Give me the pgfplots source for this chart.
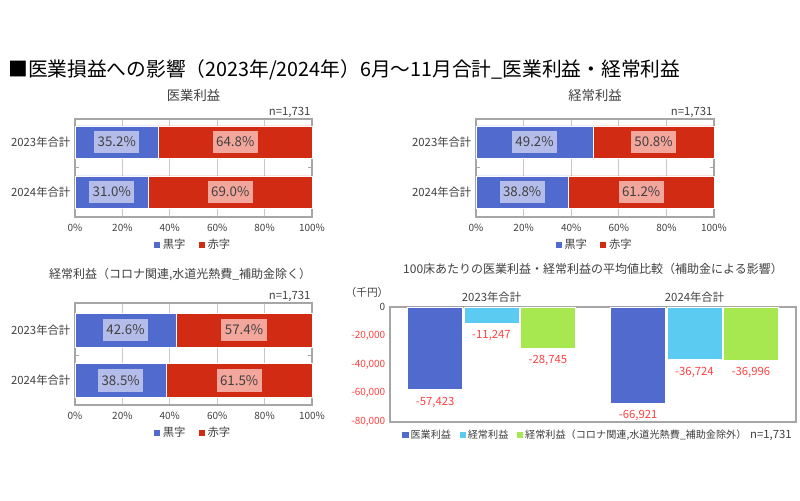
\documentclass[border=0pt]{standalone}
\usepackage{pgfplots}
\pgfplotsset{compat=1.18}
\usepackage{fontspec}
\setmainfont{Noto Sans CJK JP}
\definecolor{barblue}{HTML}{506ACE}
\definecolor{barred}{HTML}{D12B13}
\definecolor{boxblue}{HTML}{B4BDEA}
\definecolor{boxred}{HTML}{F3A69B}
\definecolor{barcyan}{HTML}{5CCBF2}
\definecolor{bargreen}{HTML}{A7E851}
\definecolor{labred}{HTML}{FF4040}
\definecolor{gridgray}{HTML}{C8C8C8}
\definecolor{framegray}{HTML}{A6A6A6}
\definecolor{txt}{HTML}{404040}
\newcommand{\fs}[1]{\fontsize{#1}{#1}\selectfont}
\tikzset{
  lbl/.style={font=\fs{10}, text=txt, inner xsep=2.6pt, minimum height=17pt},
  nlab/.style={font=\fs{8.5}, text=txt, inner sep=1pt, anchor=south east},
}
\pgfplotsset{
  sqlegend/.style={legend image code/.code={\path[##1,draw=none] (0pt,-2.3pt) rectangle (4.6pt,2.3pt);}},
  hbar/.style={
    xbar stacked, scale only axis, width=177.75pt, height=73.5pt,
    clip=false,
    xmin=0, xmax=100, xtick={0,20,40,60,80,100},
    xticklabels={0\%,20\%,40\%,60\%,80\%,100\%},
    ytick={0,1}, yticklabels={2024年合計,2023年合計},
    extra y ticks={0.5}, extra y tick labels={},
    extra y tick style={grid=none, major tick length=3pt, tick align=inside, tick style={framegray, line width=0.6pt}},
    major tick length=0pt,
    xmajorgrids, grid style={gridgray, line width=0.9pt},
    axis line style={framegray, line width=0.9pt},
    xticklabel style={font=\fs{7.5}, text=txt, yshift=-2pt},
    yticklabel style={font=\fs{8.5}, text=txt},
    legend style={draw=none, legend columns=2, font=\fs{8.5}, text=txt, /tikz/every even column/.append style={column sep=8pt}},
    sqlegend,
    bar width=24pt,
    title style={at={(0.5,1)}, anchor=center, yshift=12pt, font=\fs{10}, text=txt},
  },
}
\begin{document}
\begin{tikzpicture}
\path[use as bounding box] (0pt,0pt) rectangle (600pt,375pt);
\node[anchor=west, font=\fs{14.8}, inner sep=0pt] at (6pt,322.5pt) {■医業損益への影響（2023年/2024年）6月～11月合計\_医業利益・経常利益};

% Chart 1
\begin{axis}[hbar, name=ax1, at={(56.25pt,212.25pt)}, anchor=south west,
  ymin=-0.5, ymax=1.46,
  title={医業利益},
  legend style={at={(0.5,-0.286)}, anchor=center}]
\addplot[fill=barblue, draw=white, line width=0.5pt] coordinates {(35.2,1) (31.0,0)};
\addplot[fill=barred, draw=white, line width=0.5pt] coordinates {(64.8,1) (69.0,0)};
\legend{黒字,赤字}
\coordinate (p1a) at (axis cs:17.6,1);
\coordinate (p1b) at (axis cs:67.6,1);
\coordinate (p1c) at (axis cs:15.5,0);
\coordinate (p1d) at (axis cs:65.5,0);
\end{axis}
\node[lbl, fill=boxblue] at (p1a) {35.2\%};
\node[lbl, fill=boxred] at (p1b) {64.8\%};
\node[lbl, fill=boxblue] at (p1c) {31.0\%};
\node[lbl, fill=boxred] at (p1d) {69.0\%};
\node[nlab] at (ax1.north east) {n=1,731};

% Chart 2
\begin{axis}[hbar, name=ax2, at={(357pt,212.25pt)}, anchor=south west, width=178.5pt,
  ymin=-0.5, ymax=1.46,
  title={経常利益},
  legend style={at={(0.5,-0.286)}, anchor=center}]
\addplot[fill=barblue, draw=white, line width=0.5pt] coordinates {(49.2,1) (38.8,0)};
\addplot[fill=barred, draw=white, line width=0.5pt] coordinates {(50.8,1) (61.2,0)};
\legend{黒字,赤字}
\coordinate (p2a) at (axis cs:24.6,1);
\coordinate (p2b) at (axis cs:74.6,1);
\coordinate (p2c) at (axis cs:19.4,0);
\coordinate (p2d) at (axis cs:69.4,0);
\end{axis}
\node[lbl, fill=boxblue] at (p2a) {49.2\%};
\node[lbl, fill=boxred] at (p2b) {50.8\%};
\node[lbl, fill=boxblue] at (p2c) {38.8\%};
\node[lbl, fill=boxred] at (p2d) {61.2\%};
\node[nlab] at (ax2.north east) {n=1,731};

% Chart 3
\begin{axis}[hbar, name=ax3, at={(56.25pt,71.25pt)}, anchor=south west, height=76.5pt,
  ymin=-0.485, ymax=1.535, bar width=25.5pt,
  title={経常利益（コロナ関連,水道光熱費\_補助金除く）},
  title style={yshift=3pt, xshift=-10pt, font=\fs{9}},
  legend style={at={(0.5,-0.275)}, anchor=center}]
\addplot[fill=barblue, draw=white, line width=0.5pt] coordinates {(42.6,1) (38.5,0)};
\addplot[fill=barred, draw=white, line width=0.5pt] coordinates {(57.4,1) (61.5,0)};
\legend{黒字,赤字}
\coordinate (p3a) at (axis cs:21.3,1);
\coordinate (p3b) at (axis cs:71.3,1);
\coordinate (p3c) at (axis cs:19.25,0);
\coordinate (p3d) at (axis cs:69.25,0);
\end{axis}
\node[lbl, fill=boxblue] at (p3a) {42.6\%};
\node[lbl, fill=boxred] at (p3b) {57.4\%};
\node[lbl, fill=boxblue] at (p3c) {38.5\%};
\node[lbl, fill=boxred] at (p3d) {61.5\%};
\node[nlab] at (ax3.north east) {n=1,731};

% Chart 4
\begin{axis}[name=ax4, at={(292.5pt,58.5pt)}, anchor=south west, scale only axis,
  width=304.5pt, height=86.25pt, clip=false,
  xmin=-0.5, xmax=1.5, ymin=-80000, ymax=1,
  xtick={0,1}, xticklabels={2023年合計,2024年合計}, xticklabel pos=upper,
  ytick={-80000,-60000,-40000,-20000,0}, scaled y ticks=false,
  yticklabels={{\textcolor{labred}{-80,000}},{\textcolor{labred}{-60,000}},{\textcolor{labred}{-40,000}},{\textcolor{labred}{-20,000}},{0}},
  major tick length=0pt,
  axis line style={framegray, line width=0.9pt},
  xticklabel style={font=\fs{8.5}, text=txt},
  yticklabel style={font=\fs{7.5}, text=txt},
  ybar, bar width=41.25pt, bar shift=0pt,
  nodes near coords={\pgfmathprintnumber[fixed, precision=0, 1000 sep={,}, assume math mode=true]{\pgfplotspointmeta}},
  every node near coord/.append style={font=\fs{8.5}, text=labred, yshift=-2pt},
  title={100床あたりの医業利益・経常利益の平均値比較（補助金による影響）},
  title style={at={(0.5,1)}, anchor=center, yshift=22.5pt, font=\fs{9}, text=txt},
  legend style={at={(0.02,-0.113)}, anchor=west, draw=none, legend columns=3, font=\fs{7.6}, text=txt,
    nodes={inner xsep=1.5pt}, /tikz/every even column/.append style={column sep=5pt}},
  sqlegend,
]
\addplot[bar shift=0pt, fill=barblue, draw=white, line width=0.5pt] coordinates {(-0.2778,-57423) (0.7222,-66921)};
\addplot[bar shift=0pt, fill=barcyan, draw=white, line width=0.5pt] coordinates {(0,-11247) (1,-36724)};
\addplot[bar shift=0pt, fill=bargreen, draw=white, line width=0.5pt] coordinates {(0.2778,-28745) (1.2778,-36996)};
\legend{医業利益,経常利益,{経常利益（コロナ関連,水道光熱費\_補助金除外）}}
\end{axis}
\node[font=\fs{8.5}, text=txt, anchor=east, inner sep=0pt] at ([xshift=-3pt, yshift=-9.75pt]ax4.south east) {n=1,731};
\node[font=\fs{8}, text=txt] at (275.25pt,156pt) {（千円）};
\end{tikzpicture}
\end{document}
